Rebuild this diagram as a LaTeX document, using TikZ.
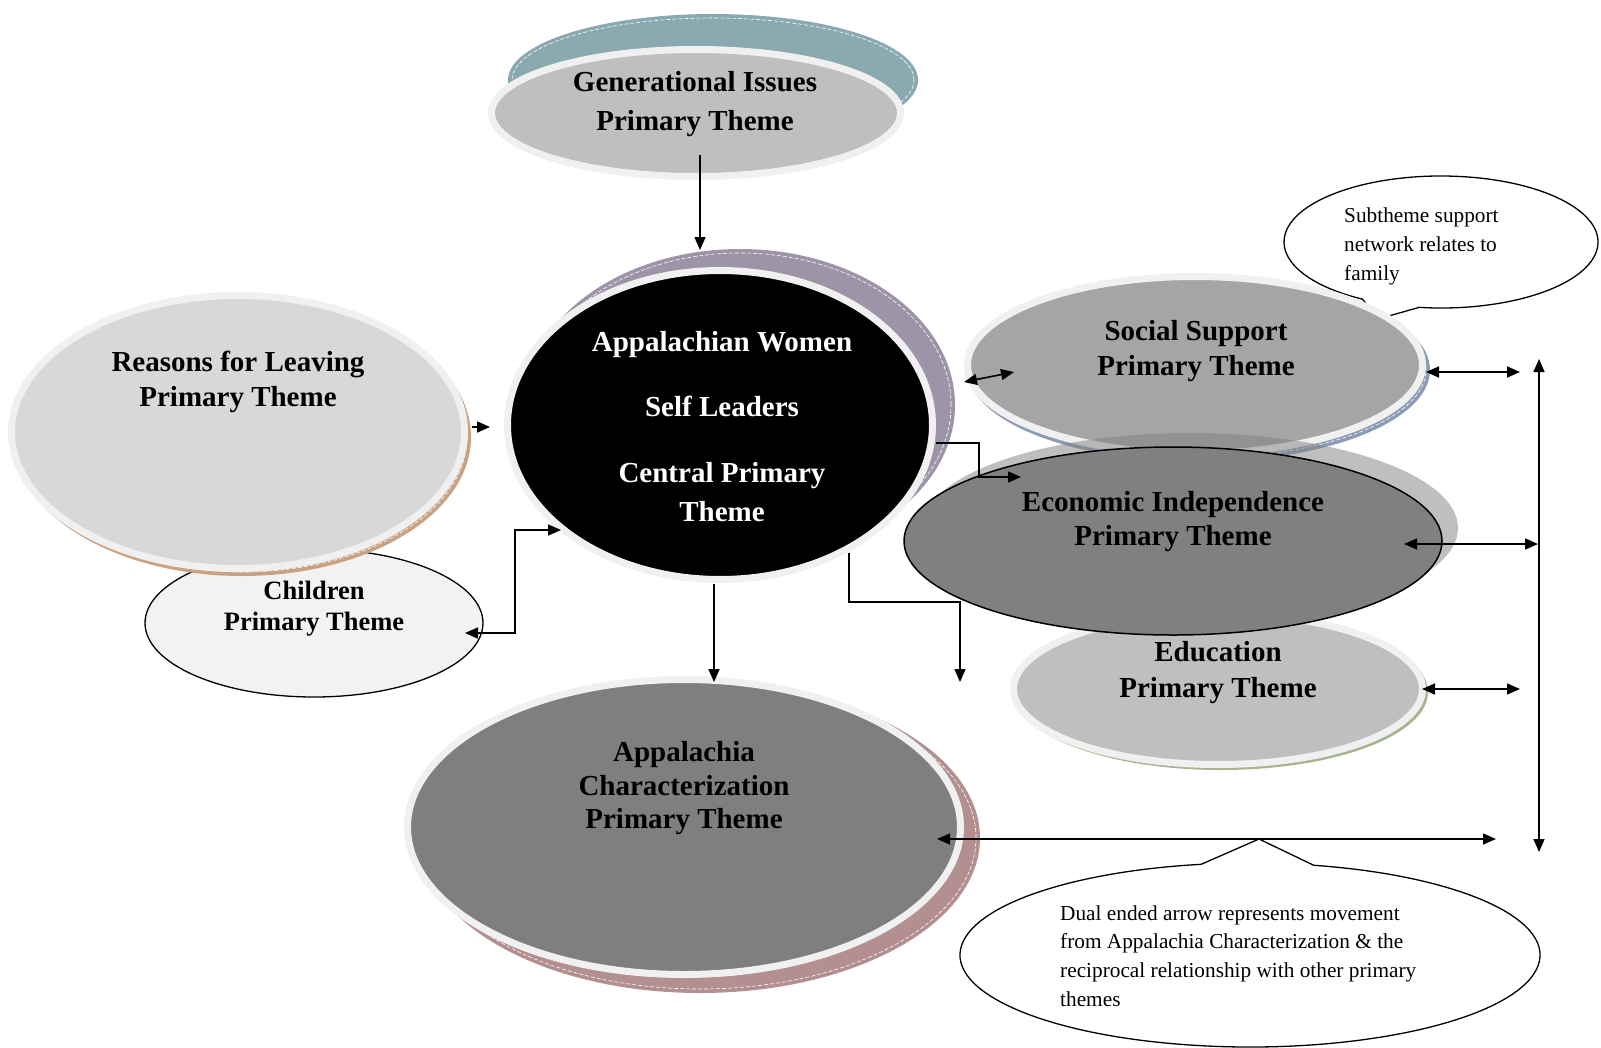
\documentclass[tikz,border=0pt]{standalone}
\usepackage{fontspec}
\setmainfont{Liberation Serif}
\usetikzlibrary{shapes.geometric,arrows.meta}
\definecolor{ringc}{HTML}{F0F0F0}
\definecolor{genfill}{HTML}{BFBFBF}
\definecolor{tealsh}{HTML}{8AA9B0}
\definecolor{purpsh}{HTML}{9D94A8}
\definecolor{reasfill}{HTML}{D8D8D8}
\definecolor{brownsh}{HTML}{C9A283}
\definecolor{childfill}{HTML}{F2F2F2}
\definecolor{appfill}{HTML}{7F7F7F}
\definecolor{rosesh}{HTML}{B38F8F}
\definecolor{socfill}{HTML}{A5A5A5}
\definecolor{bluesh}{HTML}{8C9CB5}
\definecolor{ecofill}{HTML}{808080}
\definecolor{edufill}{HTML}{BFBFBF}
\definecolor{greensh}{HTML}{A6B590}
\begin{document}
\begin{tikzpicture}[x=1pt,y=-1pt,
  ringed/.style={draw=ringc, line width=7pt},
  shadowell/.style={ellipse, inner sep=0pt, draw=none},
  dashin/.style={ellipse, inner sep=0pt, draw=white, line width=0.6pt, dash pattern=on 4pt off 2pt},
  themetext/.style={font=\fontsize{29}{#1}\selectfont\bfseries, align=center, inner sep=0pt},
  notetext/.style={font=\fontsize{21.3}{28.6}\selectfont, align=left, inner sep=0pt, anchor=west},
  calloutline/.style={draw=black, fill=white, line width=1.3pt, line join=miter},
  tipk/.tip={Triangle[length=13pt,width=11pt]},
  arr/.style={line width=1.6pt, -tipk},
  darr/.style={line width=1.6pt, tipk-tipk}]
\useasboundingbox (0,0) rectangle (1601,1047);

% Generational Issues
\node[shadowell, fill=tealsh, minimum width=410pt, minimum height=132pt] (gensh) at (713,80) {};
\node[dashin, minimum width=402pt, minimum height=124pt] (gensd) at (713,80) {};
\node[ellipse, inner sep=0pt, ringed, fill=genfill, minimum width=409pt, minimum height=127pt] (gen) at (696,113) {};

% Central
\node[shadowell, fill=purpsh, minimum width=430pt, minimum height=312pt] (censh) at (740,405) {};
\node[dashin, minimum width=422pt, minimum height=304pt] (censd) at (740,405) {};
\node[ellipse, inner sep=0pt, ringed, fill=black, minimum width=425pt, minimum height=309pt] (cen) at (720,425) {};

% Children
\node[ellipse, inner sep=0pt, draw=black, line width=1.3pt, fill=childfill, minimum width=338pt, minimum height=148pt] (chi) at (314,623) {};

% Reasons for Leaving
\node[shadowell, fill=brownsh, minimum width=458pt, minimum height=278pt] (reash) at (242,437) {};
\node[dashin, minimum width=450pt, minimum height=270pt] (reasd) at (242,437) {};
\node[ellipse, inner sep=0pt, ringed, fill=reasfill, minimum width=453pt, minimum height=273pt] (rea) at (238,432) {};

% Appalachia Characterization
\node[shadowell, fill=rosesh, minimum width=560pt, minimum height=310pt] (appsh) at (700,838) {};
\node[dashin, minimum width=552pt, minimum height=302pt] (appsd) at (700,838) {};
\node[ellipse, inner sep=0pt, ringed, fill=appfill, minimum width=553pt, minimum height=295pt] (app) at (684,827) {};

% Subtheme callout
\coordinate (subc) at (1441,242);
\coordinate (subtip) at (1378,319);
\draw[calloutline] (subtip) -- ([shift={(98:157 and 66)}]subc)
  arc[start angle=98, end angle=-240, x radius=157, y radius=66] -- cycle;

% Social Support
\node[shadowell, fill=bluesh, minimum width=462pt, minimum height=184pt] (socsh) at (1199,370) {};
\node[dashin, minimum width=454pt, minimum height=176pt] (socsd) at (1199,370) {};
\node[ellipse, inner sep=0pt, ringed, fill=socfill, minimum width=455pt, minimum height=177pt] (soc) at (1195,365) {};

% Education
\node[shadowell, fill=greensh, minimum width=414pt, minimum height=156pt] (edush) at (1221,692) {};
\node[ellipse, inner sep=0pt, ringed, fill=edufill, minimum width=409pt, minimum height=151pt] (edu) at (1218,689) {};

% Economic Independence
\node[shadowell, fill=ecofill, fill opacity=0.5, minimum width=536pt, minimum height=190pt] (ecosh) at (1190,528) {};
\node[ellipse, inner sep=0pt, draw=black, line width=1.5pt, fill=ecofill, minimum width=538pt, minimum height=188pt] (eco) at (1173,541) {};

% Dual ended callout
\coordinate (dualc) at (1250,955);
\coordinate (dualtip) at (1259,839);
\draw[calloutline] (dualtip) -- ([shift={(282.7:290 and 92)}]dualc)
  arc[start angle=282.7, end angle=620.3, x radius=290, y radius=92] -- cycle;

% connector coordinates
\coordinate (g1) at (700,155);  \coordinate (g2) at (700,250);
\coordinate (r1) at (472,427);  \coordinate (r2) at (490,427);
\coordinate (c1) at (465,633);  \coordinate (c2) at (515,633);
\coordinate (c3) at (515,530);  \coordinate (c4) at (561,530);
\coordinate (a1) at (714,584);  \coordinate (a2) at (714,682);
\coordinate (e1) at (936,443);  \coordinate (e2) at (979,443);
\coordinate (e3) at (979,477);  \coordinate (e4) at (1021,477);
\coordinate (d1) at (849,553);  \coordinate (d2) at (849,602);
\coordinate (d3) at (960,602);  \coordinate (d4) at (960,682);
\coordinate (s1) at (964,382);  \coordinate (s2) at (1014,372);
\coordinate (s3) at (1426,372); \coordinate (s4) at (1520,372);
\coordinate (n1) at (1404,544); \coordinate (n2) at (1538,544);
\coordinate (u1) at (1422,689); \coordinate (u2) at (1520,689);
\coordinate (v1) at (1539,359); \coordinate (v2) at (1539,852);
\coordinate (h1) at (937,839);  \coordinate (h2) at (1496,839);

\draw[arr] (g1) -- (g2);
\draw[arr] (r1) -- (r2);
\draw[darr] (c1) -- (c2) -- (c3) -- (c4);
\draw[arr] (a1) -- (a2);
\draw[arr] (e1) -- (e2) -- (e3) -- (e4);
\draw[arr] (d1) -- (d2) -- (d3) -- (d4);
\draw[darr] (s1) -- (s2);
\draw[darr] (s3) -- (s4);
\draw[darr] (n1) -- (n2);
\draw[darr] (u1) -- (u2);
\draw[darr] (v1) -- (v2);
\draw[darr] (h1) -- (h2);

% texts
\node[themetext=39] (gent) at (695,104) {Generational Issues\\Primary Theme};
\node[themetext=39, text=white] (cent) at (722,427) {Appalachian Women\\[26pt]Self Leaders\\[27pt]Central Primary\\Theme};
\node[themetext=35] (reat) at (238,382) {Reasons for Leaving\\Primary Theme};
\node[font=\fontsize{26.5}{31}\selectfont\bfseries, align=center, inner sep=0pt] (chit) at (314,609) {Children\\Primary Theme};
\node[themetext=33.5] (appt) at (684,788.5) {Appalachia\\Characterization\\Primary Theme};
\node[themetext=35] (soct) at (1196,351) {Social Support\\Primary Theme};
\node[themetext=34] (ecot) at (1173,522) {Economic Independence\\Primary Theme};
\node[themetext=36] (edut) at (1218,673) {Education\\Primary Theme};
\node[notetext] (subt) at (1344,246.5) {Subtheme support\\network relates to\\family};
\node[notetext] (dualt) at (1060,956) {Dual ended arrow represents movement\\from Appalachia Characterization \& the\\reciprocal relationship with other primary\\themes};
\end{tikzpicture}
\end{document}
